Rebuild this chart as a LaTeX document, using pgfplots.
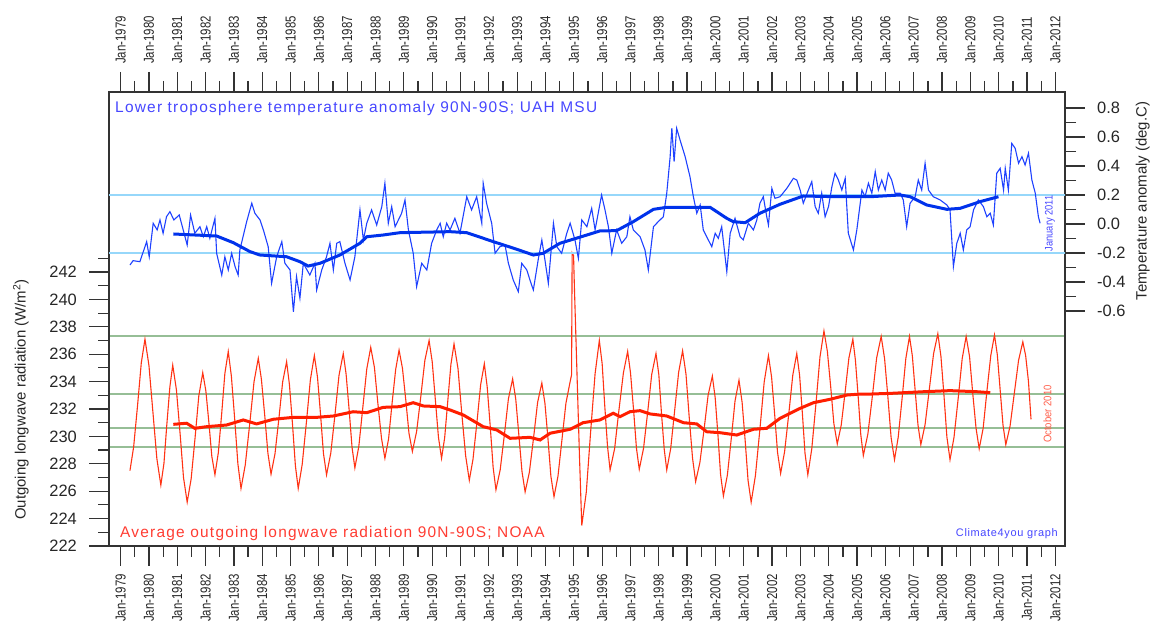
\documentclass[border=0pt]{standalone}
\usepackage{fontspec}
\setmainfont{Liberation Sans}
\usepackage{graphicx}
\usepackage{pgfplots}
\pgfplotsset{compat=1.18}
\definecolor{redline}{RGB}{255,51,20}
\definecolor{redsmooth}{RGB}{255,30,0}
\definecolor{blueline}{RGB}{30,65,255}
\definecolor{bluesmooth}{RGB}{0,50,235}
\definecolor{lightblue}{RGB}{150,215,250}
\definecolor{sage}{RGB}{150,190,150}
\definecolor{titleblue}{RGB}{70,70,255}
\definecolor{titlered}{RGB}{255,60,50}
\definecolor{salmon}{RGB}{255,95,75}
\newcommand\J[1]{\scalebox{0.79}[1]{Jan-#1}}
\begin{document}
\begin{tikzpicture}[x=1bp,y=1bp]
\useasboundingbox (0,0) rectangle (1152,623);
\pgfplotsset{
  common/.style={
    at={(109bp,77bp)}, anchor=south west, scale only axis,
    width=956bp, height=454bp,
    xmin=1978.59, xmax=2012.34,
    axis line style={line width=1.3bp, draw=black!80},
    tick align=outside,
    major tick length=20bp, minor tick length=11bp,
    every tick/.style={line width=1.2bp, draw=black!80},
    xtick={1979,...,2012},
    minor xtick={1979.5,1980.5,...,2011.5},
    xticklabels={\J{1979},\J{1980},\J{1981},\J{1982},\J{1983},\J{1984},\J{1985},\J{1986},\J{1987},\J{1988},\J{1989},\J{1990},\J{1991},\J{1992},\J{1993},\J{1994},\J{1995},\J{1996},\J{1997},\J{1998},\J{1999},\J{2000},\J{2001},\J{2002},\J{2003},\J{2004},\J{2005},\J{2006},\J{2007},\J{2008},\J{2009},\J{2010},\J{2011},\J{2012}},
    xticklabel style={rotate=90, font=\fontsize{14.5}{14.5}\selectfont, text=black!85, inner sep=0pt},
    yticklabel style={font=\fontsize{16.5}{16.5}\selectfont, text=black!85, inner sep=0pt},
    xticklabel shift=8bp, yticklabel shift=12bp,
  }
}
% ---------------- OLR (left axis, bottom dates)
\begin{axis}[common, ymin=222, ymax=255.14,
  xtick pos=left, xticklabel pos=left, ytick pos=left, yticklabel pos=left,
  xticklabel style={anchor=east},
  ytick={222,224,226,228,230,232,234,236,238,240,242},
  yticklabels={222,224,226,228,230,232,234,236,238,240,242},
  minor ytick={223,225,227,229,231,233,235,237,239,241,243}]
\addplot[sage, line width=2.2bp] coordinates {(1978.59,237.35) (2012.34,237.35)};
\addplot[sage, line width=2.2bp] coordinates {(1978.59,233.10) (2012.34,233.10)};
\addplot[sage, line width=2.2bp] coordinates {(1978.59,230.60) (2012.34,230.60)};
\addplot[sage, line width=2.2bp] coordinates {(1978.59,229.25) (2012.34,229.25)};
\addplot[redline, line width=1.1bp] coordinates {
(1979.33,227.5) (1979.46,229.23) (1979.60,232.3) (1979.73,235.37)
(1979.86,237.1) (1980.00,235.18) (1980.14,231.78) (1980.28,228.37)
(1980.42,226.45) (1980.53,228.03) (1980.63,230.83) (1980.74,233.63)
(1980.84,235.2) (1980.97,233.4) (1981.10,230.2) (1981.22,227.0)
(1981.35,225.2) (1981.49,226.9) (1981.63,229.93) (1981.76,232.95)
(1981.90,234.65) (1982.01,233.31) (1982.12,230.93) (1982.22,228.54)
(1982.33,227.2) (1982.45,228.82) (1982.57,231.7) (1982.68,234.58)
(1982.80,236.2) (1982.91,234.4) (1983.03,231.2) (1983.14,228.0)
(1983.25,226.2) (1983.40,227.91) (1983.56,230.95) (1983.71,233.99)
(1983.86,235.7) (1983.97,234.18) (1984.09,231.48) (1984.20,228.77)
(1984.31,227.25) (1984.45,228.73) (1984.59,231.35) (1984.72,233.97)
(1984.86,235.45) (1984.96,233.78) (1985.07,230.83) (1985.17,227.86)
(1985.27,226.2) (1985.41,227.95) (1985.56,231.05) (1985.70,234.15)
(1985.84,235.9) (1985.95,234.33) (1986.06,231.55) (1986.16,228.77)
(1986.27,227.2) (1986.42,228.79) (1986.57,231.63) (1986.71,234.46)
(1986.86,236.05) (1986.96,234.55) (1987.07,231.88) (1987.17,229.2)
(1987.27,227.7) (1987.41,229.28) (1987.55,232.1) (1987.69,234.92)
(1987.83,236.5) (1987.96,235.04) (1988.08,232.45) (1988.21,229.86)
(1988.33,228.4) (1988.46,229.82) (1988.58,232.35) (1988.71,234.88)
(1988.83,236.3) (1988.95,234.97) (1989.07,232.6) (1989.18,230.23)
(1989.30,228.9) (1989.45,230.36) (1989.60,232.95) (1989.74,235.54)
(1989.89,237.0) (1990.00,235.45) (1990.11,232.7) (1990.22,229.95)
(1990.33,228.4) (1990.44,229.9) (1990.55,232.58) (1990.66,235.25)
(1990.77,236.75) (1990.91,234.96) (1991.04,231.78) (1991.18,228.59)
(1991.31,226.8) (1991.44,228.33) (1991.58,231.05) (1991.71,233.77)
(1991.84,235.3) (1991.94,233.64) (1992.05,230.7) (1992.15,227.76)
(1992.25,226.1) (1992.40,227.56) (1992.55,230.15) (1992.69,232.74)
(1992.84,234.2) (1992.95,232.71) (1993.06,230.08) (1993.17,227.43)
(1993.28,225.95) (1993.43,227.38) (1993.58,229.93) (1993.72,232.47)
(1993.87,233.9) (1993.98,232.41) (1994.09,229.75) (1994.19,227.09)
(1994.30,225.6) (1994.44,227.09) (1994.58,229.75) (1994.72,232.41)
(1994.86,233.9) (1994.92,234.5) (1994.94,243.4) (1994.99,243.2) (1995.02,240.9)
(1995.12,234.0) (1995.20,228.5) (1995.28,223.5)
(1995.44,225.93) (1995.59,230.25) (1995.75,234.57)
(1995.90,237.0) (1996.00,235.3) (1996.09,232.28) (1996.19,229.25)
(1996.28,227.55) (1996.44,229.11) (1996.59,231.88) (1996.75,234.64)
(1996.90,236.2) (1997.00,234.65) (1997.11,231.9) (1997.21,229.15)
(1997.31,227.6) (1997.46,229.12) (1997.61,231.83) (1997.75,234.53)
(1997.90,236.05) (1998.00,234.52) (1998.09,231.8) (1998.19,229.08)
(1998.28,227.55) (1998.42,229.12) (1998.56,231.9) (1998.70,234.68)
(1998.84,236.25) (1998.96,234.53) (1999.07,231.48) (1999.19,228.42)
(1999.30,226.7) (1999.45,228.09) (1999.60,230.55) (1999.74,233.01)
(1999.89,234.4) (1999.99,232.82) (2000.09,230.03) (2000.18,227.22)
(2000.28,225.65) (2000.42,227.17) (2000.56,229.88) (2000.69,232.58)
(2000.83,234.1) (2000.94,232.5) (2001.05,229.65) (2001.15,226.8)
(2001.26,225.2) (2001.41,227.13) (2001.57,230.55) (2001.72,233.97)
(2001.87,235.9) (2001.98,234.35) (2002.09,231.6) (2002.19,228.85)
(2002.30,227.3) (2002.44,228.88) (2002.59,231.68) (2002.73,234.48)
(2002.87,236.05) (2002.97,234.46) (2003.07,231.63) (2003.16,228.79)
(2003.26,227.2) (2003.40,229.09) (2003.55,232.45) (2003.69,235.81)
(2003.83,237.7) (2003.95,236.21) (2004.07,233.58) (2004.18,230.93)
(2004.30,229.45) (2004.44,230.83) (2004.58,233.28) (2004.71,235.72)
(2004.85,237.1) (2004.94,235.57) (2005.04,232.85) (2005.13,230.13)
(2005.22,228.6) (2005.38,230.17) (2005.54,232.95) (2005.69,235.73)
(2005.85,237.3) (2005.97,235.68) (2006.09,232.8) (2006.20,229.92)
(2006.32,228.3) (2006.45,229.92) (2006.59,232.8) (2006.72,235.68)
(2006.85,237.3) (2006.95,235.88) (2007.05,233.35) (2007.15,230.82)
(2007.25,229.4) (2007.40,230.86) (2007.55,233.45) (2007.70,236.04)
(2007.85,237.5) (2007.96,235.84) (2008.07,232.9) (2008.17,229.96)
(2008.28,228.3) (2008.42,229.92) (2008.57,232.8) (2008.71,235.68)
(2008.85,237.3) (2008.97,235.82) (2009.08,233.2) (2009.20,230.58)
(2009.31,229.1) (2009.45,230.59) (2009.58,233.25) (2009.72,235.91)
(2009.85,237.4) (2009.95,235.96) (2010.05,233.4) (2010.15,230.84)
(2010.25,229.4) (2010.40,230.75) (2010.55,233.15) (2010.70,235.55)
(2010.85,236.9) (2010.95,235.9) (2011.05,234.0) (2011.14,231.25)};
\addplot[redsmooth, line width=3bp] coordinates {
(1980.86,230.88) (1981.33,230.96) (1981.62,230.59) (1982.04,230.71) (1982.74,230.83) (1983.33,231.20)
(1983.80,230.91) (1984.39,231.25) (1985.10,231.39) (1985.92,231.39) (1986.51,231.49) (1987.21,231.80)
(1987.69,231.73) (1988.27,232.12) (1988.86,232.17) (1989.33,232.46) (1989.69,232.22) (1990.28,232.17)
(1990.63,231.93) (1991.10,231.56) (1991.80,230.71) (1992.28,230.47) (1992.75,229.86) (1993.45,229.93)
(1993.81,229.74) (1994.16,230.23) (1994.87,230.52) (1995.33,231.00) (1995.92,231.20) (1996.39,231.69)
(1996.63,231.44) (1996.98,231.80) (1997.34,231.88) (1997.69,231.64) (1998.28,231.49) (1998.87,231.00)
(1999.34,230.91) (1999.69,230.34) (2000.16,230.27) (2000.75,230.10) (2001.34,230.52) (2001.81,230.59)
(2002.28,231.32) (2002.99,232.05) (2003.46,232.46) (2004.05,232.71) (2004.64,233.02) (2005.11,233.09)
(2005.46,233.09) (2006.27,233.15) (2007.33,233.26) (2008.28,233.34) (2009.24,233.26) (2009.70,233.19)};
\end{axis}
% ---------------- UAH temperature (right axis, top dates)
\begin{axis}[common, ymin=-2.2207, ymax=0.9103,
  xtick pos=right, xticklabel pos=right, ytick pos=right, yticklabel pos=right,
  xticklabel style={anchor=west},
  ytick={-0.6,-0.4,-0.2,0,0.2,0.4,0.6,0.8},
  yticklabels={-0.6,-0.4,-0.2,0.0,0.2,0.4,0.6,0.8},
  minor ytick={-0.5,-0.3,-0.1,0.1,0.3,0.5,0.7}]
\addplot[lightblue, line width=2.2bp] coordinates {(1978.59,0.2) (2012.34,0.2)};
\addplot[lightblue, line width=2.2bp] coordinates {(1978.59,-0.2) (2012.34,-0.2)};
\addplot[blueline, line width=1.1bp] coordinates {
(1979.33,-0.283) (1979.44,-0.253) (1979.68,-0.260) (1979.92,-0.122) (1980.01,-0.226) (1980.15,0.005)
(1980.29,-0.041) (1980.39,0.028) (1980.50,-0.064) (1980.62,0.050) (1980.74,0.085) (1980.88,0.028)
(1981.07,0.062) (1981.21,-0.041) (1981.35,-0.145) (1981.47,0.062) (1981.62,-0.064) (1981.80,-0.019)
(1981.92,-0.088) (1982.04,-0.019) (1982.15,-0.099) (1982.33,0.039) (1982.39,-0.202) (1982.57,-0.352)
(1982.68,-0.226) (1982.80,-0.317) (1982.92,-0.202) (1983.04,-0.294) (1983.15,-0.352) (1983.21,-0.179)
(1983.45,0.016) (1983.63,0.143) (1983.74,0.074) (1983.92,0.028) (1984.04,-0.041) (1984.21,-0.157)
(1984.33,-0.409) (1984.51,-0.226) (1984.69,-0.122) (1984.80,-0.271) (1984.98,-0.317) (1985.10,-0.605)
(1985.21,-0.363) (1985.33,-0.512) (1985.45,-0.271) (1985.68,-0.352) (1985.86,-0.271) (1985.92,-0.455)
(1986.10,-0.317) (1986.27,-0.226) (1986.39,-0.133) (1986.51,-0.317) (1986.63,-0.133) (1986.74,-0.122)
(1986.92,-0.271) (1987.10,-0.386) (1987.27,-0.226) (1987.45,0.097) (1987.57,-0.110) (1987.69,0.005)
(1987.86,0.097) (1988.04,-0.007) (1988.22,0.119) (1988.33,0.281) (1988.45,0.005) (1988.57,0.119)
(1988.69,-0.019) (1988.92,0.074) (1989.04,0.166) (1989.16,-0.041) (1989.33,-0.202) (1989.45,-0.432)
(1989.63,-0.271) (1989.81,-0.317) (1989.98,-0.133) (1990.16,-0.041) (1990.28,0.005) (1990.39,-0.088)
(1990.51,0.005) (1990.63,-0.041) (1990.80,0.039) (1990.98,-0.064) (1991.22,0.188) (1991.39,0.097)
(1991.57,0.188) (1991.75,0.005) (1991.80,0.281) (1991.92,0.143) (1992.10,0.005) (1992.22,-0.202)
(1992.39,-0.157) (1992.57,-0.145) (1992.69,-0.271) (1992.86,-0.386) (1993.04,-0.467) (1993.16,-0.271)
(1993.34,-0.317) (1993.45,-0.386) (1993.57,-0.455) (1993.75,-0.237) (1993.87,-0.110) (1993.98,-0.248)
(1994.10,-0.409) (1994.28,0.005) (1994.40,-0.157) (1994.57,-0.202) (1994.75,-0.064) (1994.87,0.005)
(1995.04,-0.110) (1995.16,-0.237) (1995.28,0.028) (1995.46,-0.019) (1995.63,0.108) (1995.75,-0.041)
(1995.86,0.074) (1995.98,0.200) (1996.10,0.097) (1996.22,-0.019) (1996.34,-0.202) (1996.51,-0.041)
(1996.69,-0.133) (1996.87,-0.088) (1996.98,0.050) (1997.10,-0.041) (1997.34,-0.088) (1997.51,-0.179)
(1997.63,-0.317) (1997.81,-0.019) (1997.98,0.016) (1998.16,0.050) (1998.28,0.212) (1998.40,0.464)
(1998.46,0.660) (1998.54,0.430) (1998.63,0.660) (1998.75,0.579) (1998.93,0.464) (1999.10,0.326)
(1999.22,0.188) (1999.34,0.074) (1999.46,0.131) (1999.57,-0.041) (1999.69,-0.088) (1999.87,-0.157)
(1999.99,-0.064) (2000.10,-0.099) (2000.22,-0.019) (2000.40,-0.329) (2000.52,-0.064) (2000.69,0.039)
(2000.87,-0.088) (2000.98,-0.110) (2001.16,0.005) (2001.34,-0.041) (2001.46,0.028) (2001.57,0.143)
(2001.69,0.188) (2001.81,0.050) (2001.87,-0.007) (2001.99,0.246) (2002.10,0.177) (2002.28,0.188)
(2002.52,0.246) (2002.75,0.315) (2002.87,0.303) (2002.99,0.234) (2003.10,0.143) (2003.28,0.234)
(2003.40,0.292) (2003.52,0.119) (2003.63,0.074) (2003.75,0.212) (2003.87,0.050) (2003.99,0.119)
(2004.11,0.257) (2004.22,0.350) (2004.34,0.303) (2004.46,0.234) (2004.58,0.315) (2004.69,-0.064)
(2004.87,-0.179) (2004.99,-0.041) (2005.17,0.234) (2005.28,0.188) (2005.40,0.281) (2005.52,0.212)
(2005.64,0.361) (2005.75,0.234) (2005.87,0.303) (2005.99,0.234) (2006.10,0.350) (2006.22,0.303)
(2006.34,0.212) (2006.52,0.212) (2006.63,0.166) (2006.75,-0.019) (2006.87,0.143) (2007.05,0.188)
(2007.16,0.303) (2007.28,0.234) (2007.40,0.419) (2007.52,0.234) (2007.69,0.188) (2007.93,0.166)
(2008.17,0.131) (2008.28,0.097) (2008.40,-0.294) (2008.52,-0.133) (2008.64,-0.064) (2008.75,-0.179)
(2008.87,-0.041) (2008.99,-0.019) (2009.11,0.097) (2009.28,0.166) (2009.46,0.119) (2009.58,0.050)
(2009.70,0.074) (2009.81,-0.007) (2009.93,0.350) (2010.05,0.384) (2010.17,0.234) (2010.23,0.384)
(2010.34,0.234) (2010.46,0.556) (2010.58,0.522) (2010.70,0.419) (2010.82,0.464) (2010.93,0.407)
(2011.05,0.488) (2011.17,0.303) (2011.29,0.212) (2011.40,0.050) (2011.46,0.005)};
\addplot[bluesmooth, line width=3bp] coordinates {
(1980.86,-0.069) (1982.39,-0.083) (1982.98,-0.129) (1983.57,-0.191) (1983.92,-0.214) (1984.86,-0.226)
(1985.33,-0.260) (1985.62,-0.290) (1986.04,-0.271) (1986.74,-0.214) (1987.45,-0.133) (1987.69,-0.088)
(1988.27,-0.076) (1988.86,-0.060) (1990.63,-0.053) (1991.22,-0.060) (1992.16,-0.122) (1992.98,-0.174)
(1993.57,-0.214) (1993.92,-0.202) (1994.51,-0.133) (1995.46,-0.076) (1995.92,-0.048) (1996.51,-0.046)
(1997.10,0.016) (1997.81,0.101) (1998.28,0.115) (1999.81,0.115) (2000.40,0.039) (2000.63,0.016)
(2001.05,0.009) (2001.57,0.074) (2002.28,0.136) (2003.10,0.193) (2004.28,0.188) (2005.46,0.188)
(2006.52,0.200) (2006.87,0.188) (2007.46,0.131) (2008.17,0.101) (2008.64,0.108) (2009.34,0.154)
(2009.99,0.188)};
\end{axis}
% ---------------- texts
\node[anchor=base west, inner sep=0pt, text=titleblue, font=\fontsize{15.5}{15.5}\selectfont\addfontfeatures{LetterSpace=8}] at (115,510.3) {Lower troposphere temperature anomaly 90N-90S; UAH MSU};
\node[anchor=base west, inner sep=0pt, text=titlered, font=\fontsize{15.5}{15.5}\selectfont\addfontfeatures{LetterSpace=8}] at (120,85.7) {Average outgoing longwave radiation 90N-90S; NOAA};
\node[anchor=base east, inner sep=0pt, text=titleblue, font=\fontsize{11}{11}\selectfont\addfontfeatures{LetterSpace=6}] at (1058,86.3) {Climate4you graph};
\node[rotate=90, inner sep=0pt, text=titleblue, font=\fontsize{11}{11}\selectfont] at (1050,399.5) {\scalebox{0.85}[1]{January 2011}};
\node[rotate=90, inner sep=0pt, text=salmon, font=\fontsize{11}{11}\selectfont] at (1047.5,209) {\scalebox{0.87}[1]{October 2010}};
\node[rotate=90, inner sep=0pt, text=black!85, font=\fontsize{15}{15}\selectfont] at (21,223.5) {Outgoing longwave radiation (W/m\textsuperscript{2})};
\node[rotate=90, inner sep=0pt, text=black!85, font=\fontsize{15}{15}\selectfont] at (1142.7,422) {Temperature anomaly (deg.C)};
\end{tikzpicture}
\end{document}
